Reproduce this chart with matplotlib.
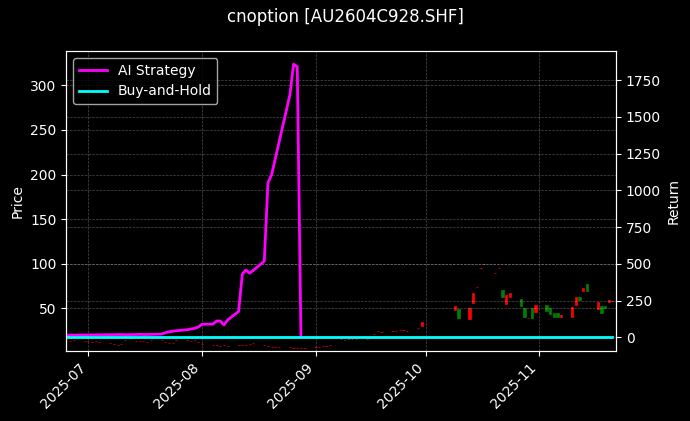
# plot.py
# Option candles with AI strategy vs buy-and-hold returns.

import numpy as np
import pandas as pd
import matplotlib
matplotlib.use("Agg")
import matplotlib.pyplot as plt
import matplotlib.dates as mdates

title = "cnoption [AU2604C928.SHF]"

# trading days (national holiday in October skipped)
holidays = ["2025-10-01", "2025-10-02", "2025-10-03", "2025-10-06", "2025-10-07", "2025-10-08"]
dates = pd.bdate_range("2025-06-25", "2025-11-21", freq="C", holidays=holidays)

# candle opens / closes
open_px = [13, 13, 14, 13,
           13, 12, 13, 12, 11, 10, 9, 10, 14, 13, 13, 13, 12, 14, 14, 12, 11, 11, 14, 14, 13, 14, 12,
           10, 9, 9, 8, 9, 8, 9, 9, 9, 10, 11, 9, 8, 7, 7, 7, 7, 6, 6, 6, 6,
           7, 7, 8, 8, 9, 15, 14, 15, 15, 15, 16, 17, 21, 24, 23, 24, 25, 26, 26, 25, 27.6, 30.1,
           48.1, 48.9, 38.0, 55.6, 74.2, 95.0, 99.6, 89.9, 94.9, 70.5, 54.8, 62.3, 60.1, 50.0, 38.8, 50.0, 46.2,
           53.7, 50.0, 44.4, 44.4, 40.6, 39.9, 53.7, 62.3, 69.7, 76.9, 49.2, 52.6, 52.6, 57.1, 58.0]
close_px = [13, 13, 14, 13,
            13, 12, 13, 12, 11, 10, 9, 10, 14, 13, 13, 13, 12, 14, 14, 12, 11, 11, 14, 14, 13, 14, 12,
            10, 9, 9, 8, 9, 8, 9, 9, 9, 10, 11, 9, 8, 7, 7, 7, 7, 6, 6, 6, 6,
            7, 7, 8, 8, 9, 15, 14, 15, 15, 15, 16, 17, 21, 24, 23, 24, 25, 26, 26, 25, 27.6, 35.0,
            52.2, 38.8, 50.0, 67.5, 74.2, 95.0, 99.6, 89.9, 94.9, 63.0, 64.9, 67.5, 52.6, 40.6, 38.8, 38.8, 53.7,
            47.0, 43.6, 39.9, 39.9, 42.5, 51.8, 63.0, 59.3, 72.4, 69.4, 57.4, 45.1, 50.0, 59.3, 58.0]

# cumulative returns (%)
ai_return = [14, 15, 15, 16,
             16, 17, 17, 17, 18, 18, 19, 19, 18, 19, 20, 19, 19, 20, 22, 31, 38, 41, 45, 52, 57, 61, 70,
             89, 90, 111, 111, 84, 118, 176, 430, 458, 436, 456, 518, 1051, 1106, 1215, 1324, 1651, 1859, 1841, 10]
bh_return = [4, 4, 4, 4,
             4, 4, 4, 4, 4, 4, 4, 4, 4, 4, 4, 4, 4, 4, 4, 4, 4, 4, 4, 4, 4, 4, 4,
             4, 4, 4, 4, 4, 4, 4, 4, 4, 4, 4, 4, 4, 4, 4, 4, 4, 4, 4, 4, 4,
             4, 4, 4, 4, 4, 4, 4, 4, 4, 4, 4, 4, 4, 4, 4, 4, 4, 4, 4, 4, 4, 4,
             4, 4, 4, 4, 4, 4, 4, 4, 4, 4, 4, 4, 4, 4, 4, 4, 4,
             4, 4, 4, 4, 4, 4, 4, 4, 4, 4, 4, 4, 4, 4, 4]

plt.style.use("dark_background")

fig, ax = plt.subplots(figsize=(6.9, 4.21), dpi=100)
plt.subplots_adjust(left=0.0962, right=0.8929, top=1 - 51 / 421, bottom=1 - 351 / 421)

o = np.array(open_px)
c = np.array(close_px)
colors = ["red" if cc >= oo else "green" for oo, cc in zip(o, c)]
ax.bar(dates, c - o, bottom=o, width=0.6, color=colors, edgecolor=colors, linewidth=0.5)

ax2 = ax.twinx()
ax2.plot(dates[:len(ai_return)], ai_return, color="magenta", linewidth=2, label="AI Strategy")
ax2.plot(dates, bh_return, color="cyan", linewidth=2, label="Buy-and-Hold")

ax.set_ylim(2.1, 338.6)
ax2.set_ylim(-93, 1948)
ax.set_xlim(pd.Timestamp("2025-06-25"), pd.Timestamp("2025-11-22"))

ax.grid(True, linestyle="--", linewidth=0.5, alpha=0.3)
ax2.grid(True, linestyle="--", linewidth=0.5, alpha=0.3)

ax.set_ylabel("Price")
ax2.set_ylabel("Return")

ax.xaxis.set_major_locator(mdates.MonthLocator())
ax.xaxis.set_major_formatter(mdates.DateFormatter("%Y-%m"))
plt.setp(ax.get_xticklabels(), rotation=45, ha="right")

ax2.legend(loc="upper left")
fig.suptitle(title)

plt.savefig("out.png", dpi=100)
